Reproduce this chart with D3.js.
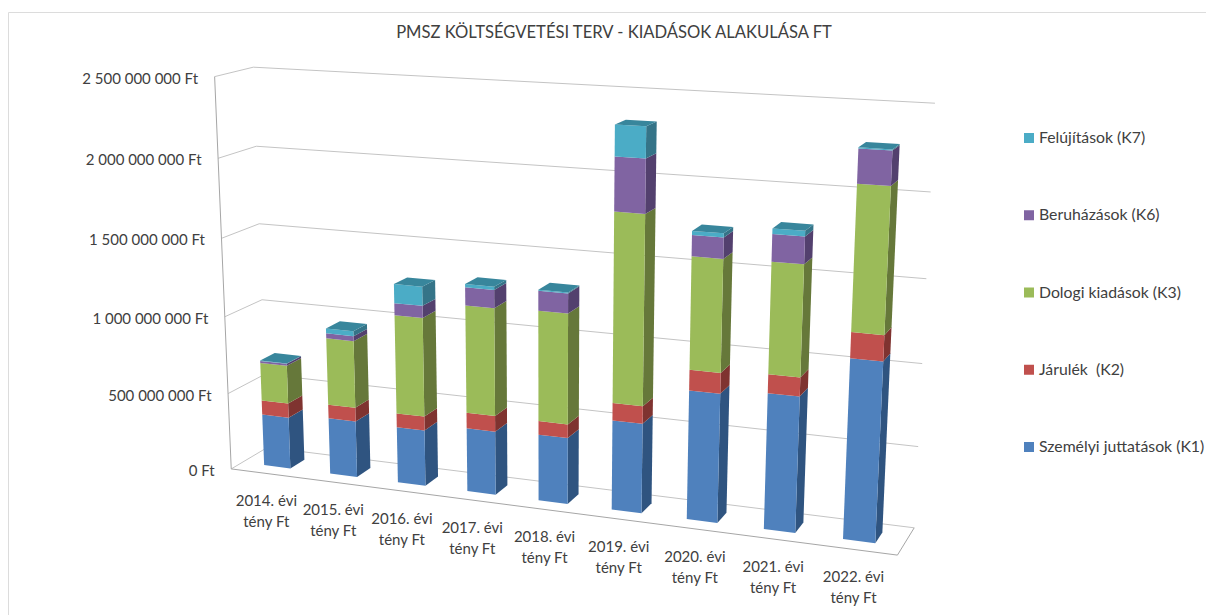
<!DOCTYPE html>
<html>
<head>
<meta charset="utf-8">
<script src="https://cdn.jsdelivr.net/npm/d3@7"></script>
<style>
  html, body { margin: 0; padding: 0; background: #fff; }
  svg { display: block; }
  text { font-family: Lato, "Noto Sans", sans-serif; fill: #404040; }
</style>
</head>
<body>
<script>
const categories = ['2014', '2015', '2016', '2017', '2018', '2019', '2020', '2021', '2022'];
const seriesNames = ['Személyi juttatások (K1)', 'Járulék  (K2)', 'Dologi kiadások (K3)', 'Beruházások (K6)', 'Felújítások (K7)'];
const k1 = [338e6, 365e6, 360e6, 405e6, 418e6, 560e6, 795e6, 828e6, 1083e6];
const k2 = [94e6, 90e6, 89e6, 100e6, 86e6, 108e6, 126e6, 113e6, 153e6];
const k3 = [247e6, 430e6, 627e6, 675e6, 685e6, 1155e6, 675e6, 662e6, 846e6];
const k6 = [13e6, 32e6, 76e6, 112e6, 123e6, 322e6, 125e6, 160e6, 196e6];
const k7 = [3e6, 32e6, 120e6, 20e6, 6e6, 185e6, 24e6, 32e6, 6e6];
const tickValues = [0, 500e6, 1000e6, 1500e6, 2000e6, 2500e6];
const tickLabels = ['0 Ft', '500 000 000 Ft', '1 000 000 000 Ft', '1 500 000 000 Ft', '2 000 000 000 Ft', '2 500 000 000 Ft'];
const frontColors = ['#4f81bd', '#c0504d', '#9bbb59', '#8064a2', '#4bacc6'];
const sideColors = ['#2f5480', '#7f3330', '#66783a', '#53406e', '#357488'];
const topColor = '#38869c';

const width = 1206;
const height = 615;

// corners of the 3d box as they sit on screen: [u, w, v, screenX, screenY]
// u = along categories, w = up the value axis, v = into the page
// the front left edge is listed twice so the fit holds on to it
const anchors = [
  [0, 0, 0, 232, 468], [0, .2, 0, 229, 393], [0, .4, 0, 226, 317], [0, .6, 0, 221, 239], [0, .8, 0, 218, 158], [0, 1, 0, 213, 77],
  [0, 0, 0, 232, 468], [0, .4, 0, 226, 317], [0, .8, 0, 218, 158], [0, 1, 0, 213, 77], [0, 1, 0, 213, 77],
  [0, 0, 1, 263, 450], [0, .4, 1, 262, 299], [0, .6, 1, 261, 223], [0, .8, 1, 258, 146], [0, 1, 1, 255, 67],
  [1, 0, 1, 914, 527], [1, .2, 1, 918, 446], [1, .4, 1, 922, 364], [1, .6, 1, 927, 279], [1, .8, 1, 930, 192], [1, 1, 1, 935, 103],
  [1, 0, 0, 898, 556]
];

// least squares fit of the camera matrix to the corners above
function fitCamera(points) {
  const rows = [];
  points.forEach(([X, Y, Z, sx, sy]) => {
    rows.push([X, Y, Z, 1, 0, 0, 0, 0, -sx * X, -sx * Y, -sx * Z, sx]);
    rows.push([0, 0, 0, 0, X, Y, Z, 1, -sy * X, -sy * Y, -sy * Z, sy]);
  });
  const n = 11;
  const m = d3.range(n).map((i) => d3.range(n + 1).map((j) => d3.sum(rows, (r) => r[i] * r[j === n ? 11 : j])));
  for (let c = 0; c < n; c++) {
    let best = c;
    for (let r = c + 1; r < n; r++) if (Math.abs(m[r][c]) > Math.abs(m[best][c])) best = r;
    [m[c], m[best]] = [m[best], m[c]];
    for (let r = 0; r < n; r++) {
      if (r === c) continue;
      const f = m[r][c] / m[c][c];
      for (let k = c; k <= n; k++) m[r][k] -= f * m[c][k];
    }
  }
  return m.map((row, i) => row[n] / row[i]);
}

const cam = fitCamera(anchors);
const project = (u, w, v) => {
  const d = cam[8] * u + cam[9] * w + cam[10] * v + 1;
  return [
    (cam[0] * u + cam[1] * w + cam[2] * v + cam[3]) / d,
    (cam[4] * u + cam[5] * w + cam[6] * v + cam[7]) / d
  ];
};

const xScale = d3.scaleBand().domain(categories).range([0, 1]).paddingInner(0.6).paddingOuter(0.335);
const yScale = d3.scaleLinear().domain([0, 2500e6]).range([0, 1]);
const zFront = 0.3;
const zBack = 0.7;

const table = categories.map((c, i) => ({
  cat: c, [seriesNames[0]]: k1[i], [seriesNames[1]]: k2[i], [seriesNames[2]]: k3[i], [seriesNames[3]]: k6[i], [seriesNames[4]]: k7[i]
}));
const stacked = d3.stack().keys(seriesNames)(table);

const svg = d3.select('body').append('svg').attr('width', width).attr('height', height);
const path = d3.line();

svg.append('path').attr('d', 'M8.5,615V12.5H1206').attr('fill', 'none').attr('stroke', '#dcdcdc');

svg.append('text')
  .attr('x', 614).attr('y', 38)
  .attr('text-anchor', 'middle')
  .style('font-size', '16.6px')
  .text('PMSZ KÖLTSÉGVETÉSI TERV - KIADÁSOK ALAKULÁSA FT');

// walls and floor
const grid = svg.append('g').attr('fill', 'none').attr('stroke', '#c4c4c4');
tickValues.forEach((t) => {
  const w = yScale(t);
  grid.append('path').attr('d', path([project(0, w, 0), project(0, w, 1), project(1, w, 1)]));
});
grid.append('path').attr('d', path([project(0, 0, 0), project(1, 0, 0), project(1, 0, 1)])).attr('stroke', '#a6a6a6');
grid.append('path').attr('d', path([project(0, 0, 0), project(0, 1, 0)])).attr('stroke', '#a6a6a6');

// tick labels follow the slanted front edge of the wall
svg.append('g').selectAll('text')
  .data(tickValues)
  .enter()
  .append('text')
  .attr('x', (d) => project(0, yScale(d), 0)[0] - 16.5)
  .attr('y', (d) => project(0, yScale(d), 0)[1] + 7)
  .attr('text-anchor', 'end')
  .style('font-size', '15px')
  .text((d, i) => tickLabels[i]);

// bars, left to right and bottom to top
const bars = svg.append('g');
categories.forEach((c, i) => {
  const u0 = xScale(c);
  const u1 = u0 + xScale.bandwidth();
  stacked.forEach((layer, s) => {
    const w0 = yScale(layer[i][0]);
    const w1 = yScale(layer[i][1]);
    bars.append('path')
      .attr('d', path([project(u1, w0, zFront), project(u1, w0, zBack), project(u1, w1, zBack), project(u1, w1, zFront)]) + 'Z')
      .attr('fill', sideColors[s]);
    bars.append('path')
      .attr('d', path([project(u0, w0, zFront), project(u1, w0, zFront), project(u1, w1, zFront), project(u0, w1, zFront)]) + 'Z')
      .attr('fill', frontColors[s]);
    if (s === stacked.length - 1) {
      bars.append('path')
        .attr('d', path([project(u0, w1, zFront), project(u1, w1, zFront), project(u1, w1, zBack), project(u0, w1, zBack)]) + 'Z')
        .attr('fill', topColor);
    }
  });
});

// category labels hang under the front edge of the floor
const catLabels = svg.append('g').selectAll('text')
  .data(categories)
  .enter()
  .append('text')
  .attr('text-anchor', 'middle')
  .style('font-size', '15px');
const catX = (d) => project(xScale(d) + xScale.bandwidth() / 2, 0, 0)[0];
const catY = (d) => project(xScale(d) + xScale.bandwidth() / 2, 0, 0)[1] + 33;
catLabels.append('tspan').attr('x', catX).attr('y', catY).text((d) => d + '. évi');
catLabels.append('tspan').attr('x', catX).attr('y', (d) => catY(d) + 21).text('tény Ft');

// legend, newest series on top
const legendY = d3.scalePoint().domain(seriesNames.slice().reverse()).range([138, 447]);
const legend = svg.append('g').selectAll('g')
  .data(seriesNames)
  .enter()
  .append('g')
  .attr('transform', (d) => 'translate(1024,' + legendY(d) + ')');
legend.append('rect')
  .attr('y', -5).attr('width', 10).attr('height', 10)
  .attr('fill', (d, i) => frontColors[i]);
legend.append('text')
  .attr('x', 15).attr('y', 5)
  .style('font-size', '15.8px')
  .style('white-space', 'pre')
  .text((d) => d);
</script>
</body>
</html>
